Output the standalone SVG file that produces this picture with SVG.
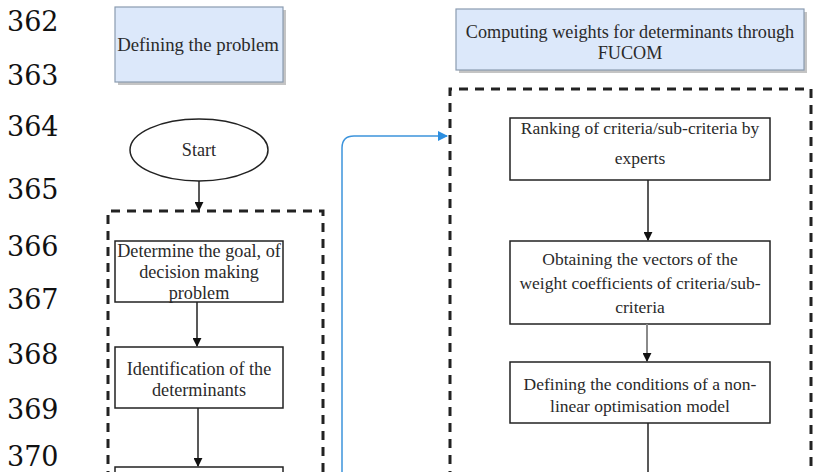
<svg xmlns="http://www.w3.org/2000/svg" width="816" height="472" viewBox="0 0 816 472">
<defs>
<style>
.ln{font-family:"DejaVu Serif","Liberation Serif",serif;font-size:27px;fill:#111}
.t{font-family:"Liberation Serif","Times New Roman",serif;font-size:17.5px;fill:#2a2a2a;text-anchor:middle}
.tl{font-size:18.2px}
.hdr{fill:#dce8fa;stroke:#8a9bb0;stroke-width:1.2}
.shadow{fill:#c4c4c4}
.box{fill:#fff;stroke:#222;stroke-width:1.5}
.dash{fill:none;stroke:#222;stroke-width:3;stroke-dasharray:9 7}
.arr{stroke:#222;stroke-width:1.5;fill:none}
</style>
<marker id="ah" viewBox="0 0 10 10" refX="9" refY="5" markerWidth="9" markerHeight="9" markerUnits="userSpaceOnUse" orient="auto">
<path d="M0,0 L10,5 L0,10 Z" fill="#111"/>
</marker>
<marker id="ahb" viewBox="0 0 10 10" refX="9" refY="5" markerWidth="10" markerHeight="10" markerUnits="userSpaceOnUse" orient="auto">
<path d="M0,0 L10,5 L0,10 Z" fill="#2b8ee0"/>
</marker>
</defs>
<rect width="816" height="472" fill="#fff"/>

<g id="line-numbers">
<text class="ln" x="7" y="31">362</text>
<text class="ln" x="7" y="85">363</text>
<text class="ln" x="7" y="136">364</text>
<text class="ln" x="7" y="199">365</text>
<text class="ln" x="7" y="256">366</text>
<text class="ln" x="7" y="309">367</text>
<text class="ln" x="7" y="364">368</text>
<text class="ln" x="7" y="419">369</text>
<text class="ln" x="7" y="466">370</text>
</g>

<g id="defining-problem">
<rect class="shadow" x="118" y="10" width="168" height="75"/>
<rect class="hdr" x="115" y="7" width="168" height="75"/>
<text class="t tl" x="198" y="51" style="font-size:18.8px">Defining the problem</text>
</g>

<g id="computing-weights">
<rect class="shadow" x="459" y="12" width="348" height="61"/>
<rect class="hdr" x="456" y="9" width="348" height="61"/>
<text class="t tl" x="630" y="38">Computing weights for determinants through</text>
<text class="t tl" x="630" y="59">FUCOM</text>
</g>

<g id="start">
<ellipse cx="199" cy="150" rx="69" ry="31" fill="#fff" stroke="#222" stroke-width="1.5"/>
<text class="t tl" x="199" y="156">Start</text>
</g>

<g id="left-group">
<path class="dash" d="M108,480 V211 H323 V480"/>
</g>

<g id="right-group">
<path class="dash" d="M450,480 V89 H811 V480"/>
</g>

<g id="determine-goal">
<rect class="box" x="115" y="241" width="168" height="61"/>
<text class="t tl" x="199" y="257">Determine the goal, of</text>
<text class="t tl" x="199" y="278">decision making</text>
<text class="t tl" x="199" y="299">problem</text>
</g>

<g id="identification">
<rect class="box" x="115" y="347" width="168" height="61"/>
<text class="t tl" x="199" y="375">Identification of the</text>
<text class="t tl" x="199" y="396">determinants</text>
</g>

<g id="next-left">
<rect class="box" x="115" y="467" width="168" height="20"/>
</g>

<g id="ranking">
<rect class="box" x="510" y="118" width="260" height="62"/>
<text class="t" x="640" y="134">Ranking of criteria/sub-criteria by</text>
<text class="t" x="640" y="164">experts</text>
</g>

<g id="obtaining">
<rect class="box" x="510" y="241" width="260" height="83"/>
<text class="t" x="640" y="265">Obtaining the vectors of the</text>
<text class="t" x="640" y="289">weight coefficients of criteria/sub-</text>
<text class="t" x="640" y="313">criteria</text>
</g>

<g id="defining-conditions">
<rect class="box" x="510" y="362" width="260" height="61"/>
<text class="t" x="640" y="390">Defining the conditions of a non-</text>
<text class="t" x="640" y="412">linear optimisation model</text>
</g>

<g id="connectors">
<line class="arr" x1="199" y1="181" x2="199" y2="210" marker-end="url(#ah)"/>
<line class="arr" x1="197" y1="302" x2="197" y2="346" marker-end="url(#ah)"/>
<line class="arr" x1="198" y1="408" x2="198" y2="466" marker-end="url(#ah)"/>
<line class="arr" x1="648" y1="180" x2="648" y2="240" marker-end="url(#ah)"/>
<line x1="647" y1="324" x2="647" y2="361" stroke="#8a8a8a" stroke-width="2" marker-end="url(#ah)"/>
<line class="arr" x1="648" y1="423" x2="648" y2="480"/>
<path d="M342,480 V148 Q342,136 354,136 H447" fill="none" stroke="#3d94dc" stroke-width="1.5" marker-end="url(#ahb)"/>
</g>
</svg>
